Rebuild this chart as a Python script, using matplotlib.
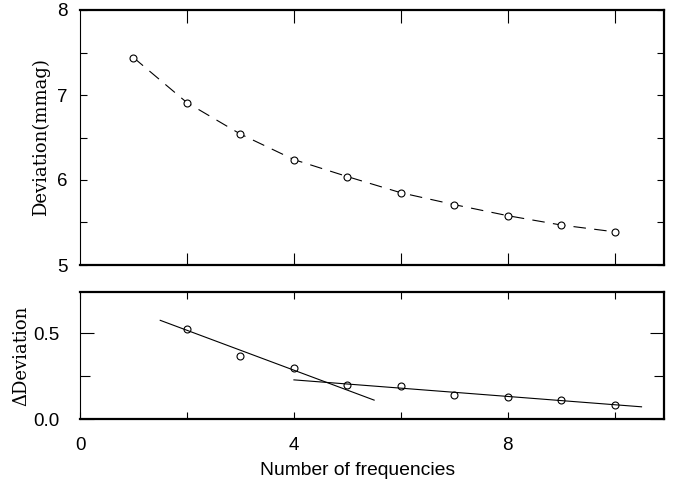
import matplotlib
matplotlib.use("Agg")
import matplotlib.pyplot as plt
import numpy as np

# data
n_freq = [1, 2, 3, 4, 5, 6, 7, 8, 9, 10]
deviation = [7.44, 6.91, 6.54, 6.24, 6.04, 5.85, 5.71, 5.58, 5.47, 5.39]
n_delta = [2, 3, 4, 5, 6, 7, 8, 9, 10]
delta_dev = [0.525, 0.366, 0.298, 0.198, 0.19, 0.14, 0.13, 0.108, 0.079]
fit1_x = [1.5, 5.5]
fit1_y = [0.575, 0.11]
fit2_x = [4.0, 10.5]
fit2_y = [0.228, 0.071]

plt.rcParams['lines.scale_dashes'] = False
tickfont = 'Liberation Sans'
serif = 'DejaVu Serif'

fig = plt.figure(figsize=(6.75, 4.83), dpi=100)
W, H = 675, 483
L, R = 80, 664
ax1 = fig.add_axes([L / W, 1 - 265 / H, (R - L) / W, (265 - 10) / H])
ax2 = fig.add_axes([L / W, 1 - 419 / H, (R - L) / W, (419 - 292) / H])

xmax = 10.92

# top panel
ax1.plot(n_freq, deviation, color='black', lw=0.8, dashes=(9, 6),
         marker='o', ms=5, mfc='white', mec='black', mew=0.8)
ax1.set_xlim(0, xmax)
ax1.set_ylim(5, 8)
ax1.set_xticks([2, 4, 6, 8, 10])
ax1.set_xticklabels([])
ax1.set_yticks([5, 6, 7, 8])
ax1.set_yticks([5.5, 6.5, 7.5], minor=True)
ax1.tick_params(axis='x', which='both', direction='in', top=True, bottom=True,
                length=9, width=0.8, labelbottom=False)
ax1.tick_params(axis='y', which='both', direction='in', left=True, right=True,
                length=5, width=0.8, pad=9)
ax1.set_ylabel('Deviation(mmag)', family=serif, fontsize=13)
ax1.yaxis.set_label_coords(-30 / (R - L), 0.5)

# bottom panel
ax2.plot(n_delta, delta_dev, ls='none', marker='o', ms=5, mfc='white',
         mec='black', mew=0.8)
ax2.plot(fit1_x, fit1_y, color='black', lw=0.8)
ax2.plot(fit2_x, fit2_y, color='black', lw=0.8)
ax2.set_xlim(0, xmax)
ax2.set_ylim(0, 0.74)
ax2.set_xticks([0, 4, 8])
ax2.set_xticks([2, 6, 10], minor=True)
ax2.set_yticks([0.0, 0.5])
ax2.set_yticks([0.25], minor=True)
ax2.set_yticklabels(['0.0', '0.5'])
ax2.tick_params(axis='x', which='both', direction='in', top=True, bottom=True,
                length=5, width=0.8, pad=13)
ax2.tick_params(axis='y', which='major', direction='in', left=True, right=True,
                length=10, width=0.8, pad=15)
ax2.tick_params(axis='y', which='minor', direction='in', left=True, right=True,
                length=7, width=0.8)
ax2.set_ylabel('ΔDeviation', family=serif, fontsize=13)
ax2.yaxis.set_label_coords(-50 / (R - L), 0.5)
ax2.set_xlabel('Number of frequencies', family=tickfont, fontsize=13.9)
ax2.xaxis.set_label_coords((358 - L) / (R - L), -43 / (419 - 292))

for ax in (ax1, ax2):
    for lab in ax.get_xticklabels() + ax.get_yticklabels():
        lab.set_family(tickfont)
        lab.set_fontsize(13.5)
    ax.spines['left'].set_linewidth(0.8)
    for s in ('top', 'right', 'bottom'):
        ax.spines[s].set_linewidth(1.6)

fig.savefig('out.png', dpi=100)
